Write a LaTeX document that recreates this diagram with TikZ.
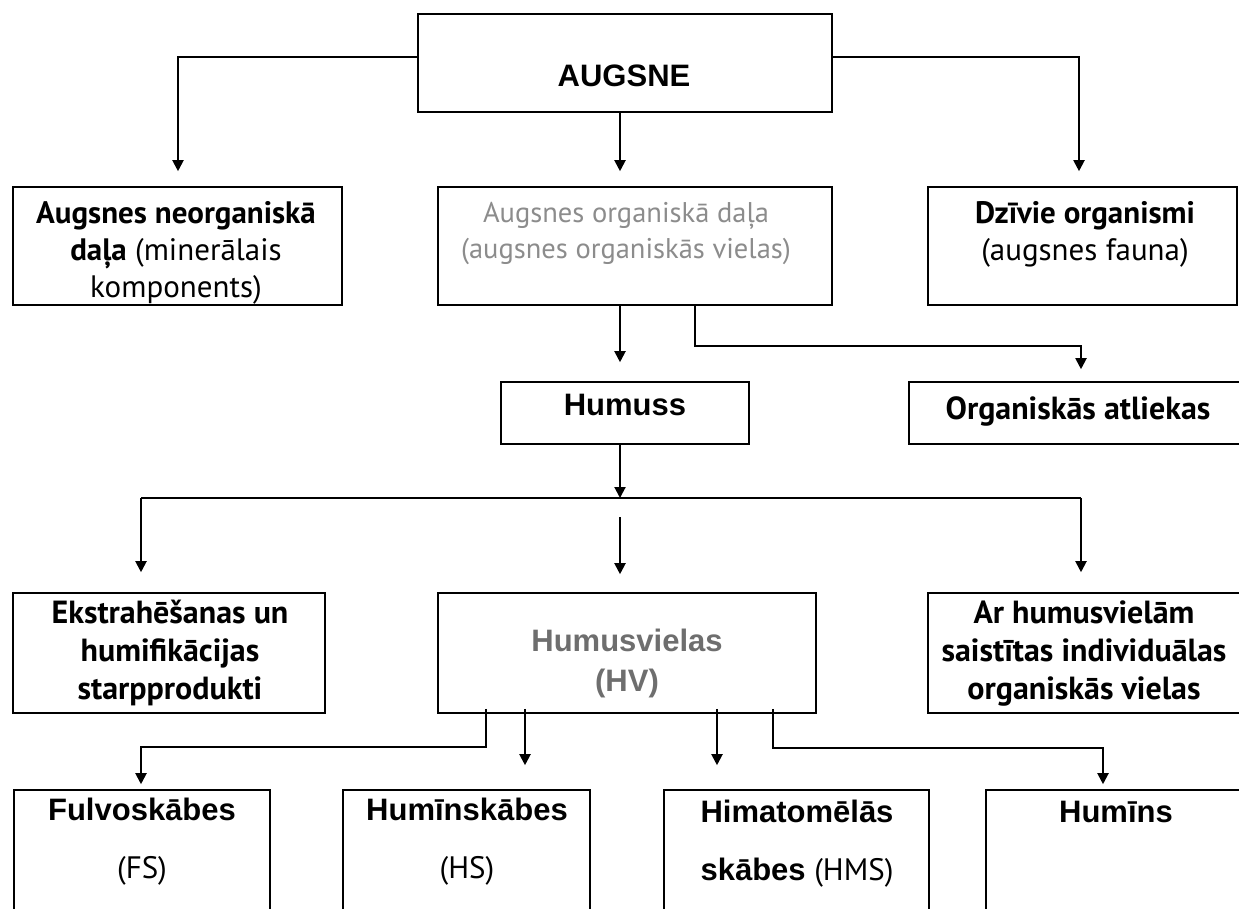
\documentclass[tikz,border=0pt]{standalone}
\usepackage{fontspec}
\setmainfont{Liberation Sans}
\newfontfamily\hum{PT Sans}
\usetikzlibrary{arrows.meta}
\definecolor{lightgrey}{HTML}{8C8C8C}
\definecolor{midgrey}{HTML}{6E6E6E}
\begin{document}
\begin{tikzpicture}[x=1pt,y=-1pt,
  box/.style={draw, line width=1.6pt, inner sep=0pt},
  ln/.style={line width=2pt},
  arr/.style={ln, -{Triangle[width=11pt,length=11pt]}},
  txt/.style={inner sep=0pt, align=center, anchor=north},
  humt/.style={txt, font=\hum\fontsize{31}{37}\selectfont},
  humg/.style={txt, font=\hum\fontsize{28.5}{36}\selectfont, text=lightgrey},
  humb/.style={txt, font=\hum\bfseries\fontsize{32}{38}\selectfont},
  arb/.style={txt, font=\bfseries\fontsize{31}{40}\selectfont},
  bot/.style={txt, font=\bfseries\fontsize{31}{58}\selectfont}
]
\useasboundingbox (0,0) rectangle (1239,908);

% boxes
\node[box, minimum width=414pt, minimum height=98pt] (augsne) at (625,63) {};
\node[box, minimum width=329pt, minimum height=118pt] (neorg) at (177.5,246) {};
\node[box, minimum width=394pt, minimum height=118pt] (org) at (635,246) {};
\node[box, minimum width=309pt, minimum height=118pt] (dziv) at (1082.5,246) {};
\node[box, minimum width=248pt, minimum height=62pt] (humuss) at (625,413) {};
\node[box, minimum width=341pt, minimum height=62pt] (atl) at (1079.5,413) {};
\node[box, minimum width=312pt, minimum height=120pt] (ekstr) at (169,653) {};
\node[box, minimum width=378pt, minimum height=120pt] (hv) at (627,653) {};
\node[box, minimum width=322pt, minimum height=120pt] (arhum) at (1089,653) {};
\node[box, minimum width=256pt, minimum height=130pt] (fulvo) at (142,855) {};
\node[box, minimum width=247pt, minimum height=130pt] (humsk) at (466.5,855) {};
\node[box, minimum width=265pt, minimum height=130pt] (himat) at (796.5,855) {};
\node[box, minimum width=264pt, minimum height=130pt] (humins) at (1118,855) {};

% texts
\node[arb] (augsneT) at (624,58) {\strut AUGSNE};
\node[humt] (neorgT) at (176,197) {\strut\textbf{Augsnes neorganiskā}\\\strut\textbf{daļa} (minerālais\\\strut komponents)};
\node[humg] (orgT) at (626,197) {\strut Augsnes organiskā daļa\\\strut(augsnes organiskās vielas)};
\node[humt] (dzivT) at (1085,197) {\strut\textbf{Dzīvie organismi}\\\strut(augsnes fauna)};
\node[arb] (humussT) at (625,387) {\strut Humuss};
\node[humb] (atlT) at (1078,393) {\strut Organiskās atliekas};
\node[humb] (ekstrT) at (170,597) {\strut Ekstrahēšanas un\\\strut humifikācijas\\\strut starpprodukti};
\node[arb, text=midgrey] (hvT) at (627,623) {\strut Humusvielas\\\strut(HV)};
\node[humb] (arhumT) at (1084,597) {\strut Ar humusvielām\\\strut saistītas individuālas\\\strut organiskās vielas};
\node[bot] (fulvoT) at (142,780) {\strut Fulvoskābes\\\strut{\hum\mdseries(FS)}};
\node[bot] (humskT) at (467,780) {\strut Humīnskābes\\\strut{\hum\mdseries(HS)}};
\node[bot] (himatT) at (797,782) {\strut Himatomēlās\\\strut skābes {\hum\mdseries(HMS)}};
\node[bot] (huminsT) at (1116,782) {\strut Humīns};

% connectors
\draw[arr] ([yshift=6pt]augsne.west) -| ([xshift=0.5pt,yshift=15pt]neorg.north);
\draw[arr] ([xshift=-5pt]augsne.south) -- ([xshift=-15pt,yshift=15pt]org.north);
\draw[arr] ([yshift=6pt]augsne.east) -| ([xshift=-3.5pt,yshift=15pt]dziv.north);

\draw[arr] ([xshift=-15pt]org.south) -- ([xshift=-5pt,yshift=19pt]humuss.north);
\draw[arr] ([xshift=60pt]org.south) -- ++(0,40) -| ([xshift=1.5pt,yshift=12pt]atl.north);

\coordinate (barL) at (141,498);
\coordinate (barC) at (620,498);
\coordinate (barR) at (1081,498);
\coordinate (cs) at (620,517);
\draw[arr] ([xshift=-5pt]humuss.south) -- (barC);
\draw[ln] (barL) -- (barR);
\draw[arr, shorten >=20pt] (barL) -- (barL |- ekstr.north);
\draw[arr, shorten >=18pt] (cs) -- (cs |- hv.north);
\draw[arr, shorten >=20pt] (barR) -- (barR |- arhum.north);

\draw[arr] ([xshift=-141pt,yshift=5pt]hv.south) -- ++(0,38) -| ([xshift=-1pt,yshift=5pt]fulvo.north);
\draw[arr] ([xshift=-102pt,yshift=5pt]hv.south) -- ([xshift=58.5pt,yshift=24pt]humsk.north);
\draw[arr] ([xshift=90pt,yshift=5pt]hv.south) -- ([xshift=-79.5pt,yshift=24pt]himat.north);
\draw[arr] ([xshift=146pt,yshift=5pt]hv.south) -- ++(0,39) -| ([xshift=-15pt,yshift=5pt]humins.north);
\end{tikzpicture}
\end{document}
